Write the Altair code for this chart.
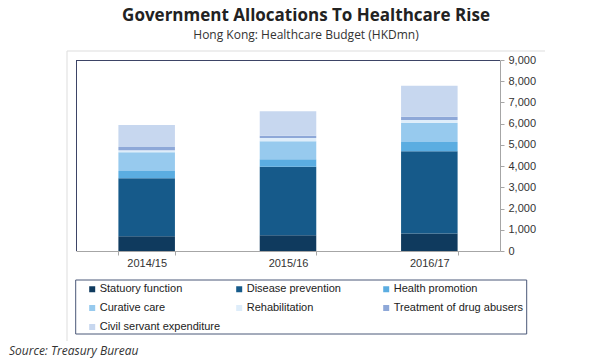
import altair as alt
import pandas as pd

years = ["2014/15", "2015/16", "2016/17"]
series = ["Statuory function", "Disease prevention", "Health promotion",
          "Curative care", "Rehabilitation", "Treatment of drug abusers",
          "Civil servant expenditure"]
statutory = [690, 740, 830]
disease = [2735, 3235, 3865]
health = [345, 345, 440]
curative = [880, 850, 910]
rehab = [95, 155, 125]
drug = [155, 110, 155]
civil = [1040, 1150, 1460]
colors = ["#0f3a5e", "#165a8a", "#5bade1", "#97caee", "#deedfa", "#8ea8d8", "#c7d7ef"]
y_ticks = [0, 1000, 2000, 3000, 4000, 5000, 6000, 7000, 8000, 9000]

title = "Government Allocations To Healthcare Rise"
subtitle = "Hong Kong: Healthcare Budget (HKDmn)"
source = "Source: Treasury Bureau"

rows = []
for s_i, (name, vals) in enumerate(zip(series, [statutory, disease, health, curative, rehab, drug, civil])):
    for y, v in zip(years, vals):
        rows.append({"year": y, "series": name, "value": v, "idx": s_i})
df = pd.DataFrame(rows)

W, H = 424, 191
FONT = "Liberation Sans"

bars = alt.Chart(df).mark_bar().encode(
    x=alt.X("year:N", sort=years,
            scale=alt.Scale(paddingInner=0.6, paddingOuter=0.3),
            axis=alt.Axis(title=None, labelAngle=0, tickBand="extent",
                          domainColor="#a6a6a6", tickColor="#a6a6a6", tickSize=4,
                          labelPadding=2.5, labelFont=FONT, labelFontSize=11,
                          labelColor="#333333")),
    y=alt.Y("value:Q", stack="zero",
            scale=alt.Scale(domain=[0, 9000], nice=False),
            axis=alt.Axis(title=None, orient="right", values=y_ticks, format=",.0f",
                          grid=False, domainColor="#a6a6a6", tickColor="#a6a6a6",
                          tickSize=4, labelPadding=4, labelFont=FONT,
                          labelFontSize=11, labelColor="#333333")),
    color=alt.Color("series:N", sort=series,
                    scale=alt.Scale(domain=series, range=colors),
                    legend=alt.Legend(orient="none", legendX=10.7, legendY=223.5,
                                      direction="horizontal",
                                      columns=3, title=None, symbolType="square",
                                      symbolSize=36, symbolStrokeWidth=0,
                                      symbolOpacity=1,
                                      labelFont=FONT, labelFontSize=11,
                                      labelColor="#222222", labelOffset=2,
                                      columnPadding=4, rowPadding=7,
                                      gridAlign="all", padding=0)),
    order=alt.Order("idx:Q", sort="ascending"),
)

one = pd.DataFrame({"k": [0]})

frame_top = alt.Chart(one).mark_rule(color="#3d4466", strokeWidth=1).encode(
    x=alt.value(0), x2=alt.value(W), y=alt.value(0.5))
frame_left = alt.Chart(one).mark_rule(color="#3d4466", strokeWidth=1).encode(
    x=alt.value(0.5), y=alt.value(0), y2=alt.value(H))

outer_top = alt.Chart(one).mark_rule(color="#dddddd", strokeWidth=1).encode(
    x=alt.value(-9), x2=alt.value(469), y=alt.value(-9))
outer_left = alt.Chart(one).mark_rule(color="#dddddd", strokeWidth=1).encode(
    x=alt.value(-9), y=alt.value(-9), y2=alt.value(281))

legend_box = alt.Chart(one).mark_rect(fill=None, stroke="#4b5878", strokeWidth=1).encode(
    x=alt.value(-0.3), x2=alt.value(450.7), y=alt.value(220), y2=alt.value(274))

src_t = alt.Chart(pd.DataFrame({"t": [source]})).mark_text(
    font="Open Sans", fontSize=12, fontStyle="italic", color="#333333",
    align="left", baseline="middle").encode(
    text="t:N", x=alt.value(-67), y=alt.value(291))

chart = alt.layer(
    outer_top, outer_left, bars, frame_top, frame_left, legend_box, src_t
).properties(
    width=W, height=H,
    title=alt.TitleParams(
        text=title, subtitle=subtitle, anchor="middle", dx=18, offset=9,
        font="Open Sans", fontSize=17, fontWeight="bold", color="#222222",
        subtitleFont="Open Sans", subtitleFontSize=12, subtitleColor="#333333",
        subtitlePadding=5),
    autosize=alt.AutoSizeParams(type="none"),
    padding={"left": 68, "top": 52, "right": 92, "bottom": 120},
    background="white",
).configure_view(stroke=None)

chart.save("out.html", embed_options={"renderer": "svg", "actions": False})
